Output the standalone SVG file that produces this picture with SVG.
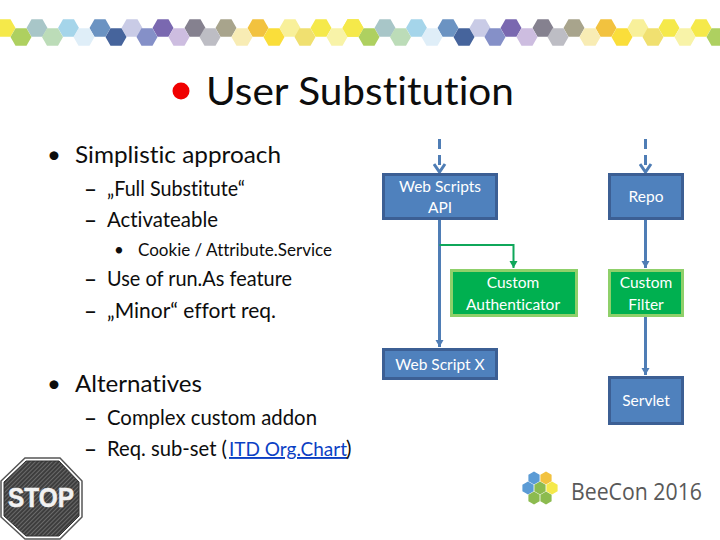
<svg xmlns="http://www.w3.org/2000/svg" width="720" height="540" viewBox="0 0 720 540">
<style>
text{font-family:"Lato","Carlito","Liberation Sans",sans-serif;font-variant-ligatures:none}
.t{fill:#0d0d0d}
.l1{font-size:24px}.l2{font-size:20.5px}.l3{font-size:17px}
.d{font-size:20.5px;font-weight:700;fill:#0d0d0d}
.n{font-size:15.5px;fill:#fff;text-anchor:middle}
.b{fill:#4f81bd;stroke:#3c5f94;stroke-width:3}
.g{fill:#00b050;stroke:#8fd06a;stroke-width:3}
.c{fill:none;stroke:#4f7db5;stroke-width:3}
.cg{fill:none;stroke:#0fa75a;stroke-width:2}
</style>
<defs>
<polygon id="h" points="-10.500,0 -5.500,-8.700 5.500,-8.700 10.500,0 5.500,8.700 -5.500,8.700"/>
<polygon id="p" points="0,-6.500 5.600,-3.300 5.600,3.300 0,6.500 -5.600,3.300 -5.600,-3.300"/>
<g id="band">
<use href="#h" x="5" y="28" fill="#f5e94a"/><use href="#h" x="37" y="28" fill="#a8c6c8"/><use href="#h" x="68.500" y="28" fill="#a5d5ea"/><use href="#h" x="100" y="28" fill="#6b93c2"/><use href="#h" x="132" y="28" fill="#c9cbe6"/><use href="#h" x="163" y="28" fill="#7a68b0"/><use href="#h" x="195" y="28" fill="#85818f"/><use href="#h" x="226" y="28" fill="#a8a48c"/><use href="#h" x="258" y="28" fill="#f2c23f"/><use href="#h" x="290" y="28" fill="#f8f09a"/><use href="#h" x="321" y="28" fill="#f5e94a"/>
<use href="#h" x="21" y="37" fill="#aed060"/><use href="#h" x="52.500" y="37" fill="#bcdcb8"/><use href="#h" x="84" y="37" fill="#dfeef8"/><use href="#h" x="116" y="37" fill="#46649c"/><use href="#h" x="147" y="37" fill="#8590c8"/><use href="#h" x="179" y="37" fill="#cdbde0"/><use href="#h" x="210" y="37" fill="#bdbdc4"/><use href="#h" x="242" y="37" fill="#f8ecb4"/><use href="#h" x="274" y="37" fill="#fade3a"/><use href="#h" x="305" y="37" fill="#f0e070"/><use href="#h" x="337" y="37" fill="#f8f3a8"/>
</g>
<marker id="ab" markerUnits="userSpaceOnUse" markerWidth="14" markerHeight="14" refX="10" refY="7" orient="auto"><path d="M2,1.500 L10,7 L2,12.500" fill="none" stroke="#4f7db5" stroke-width="3"/></marker>
<marker id="as" markerUnits="userSpaceOnUse" markerWidth="10" markerHeight="10" refX="7" refY="5" orient="auto"><path d="M0,1 L7,5 L0,9Z" fill="#4f7db5"/></marker>
<marker id="ag" markerUnits="userSpaceOnUse" markerWidth="10" markerHeight="10" refX="7" refY="5" orient="auto"><path d="M0,1 L7,5 L0,9Z" fill="#0fa75a"/></marker>
<pattern id="hatch" width="3" height="3" patternUnits="userSpaceOnUse" patternTransform="rotate(-45)"><rect width="3" height="3" fill="#3d3d3d"/><rect width="3" height="1" fill="#6a6a6a"/></pattern>
</defs>

<g id="banner"><use href="#band"/><use href="#band" x="348"/><use href="#band" x="696"/><use href="#h" x="353" y="28" fill="#f5e94a"/></g>

<g id="title"><circle cx="181" cy="91" r="8.500" fill="#f00000"/><text class="t" x="206" y="105" font-size="39" textLength="308" lengthAdjust="spacingAndGlyphs">User Substitution</text></g>

<g id="bullets">
<text class="t l1" x="47" y="163">•</text><text class="t l1" x="75" y="163" textLength="206" lengthAdjust="spacingAndGlyphs">Simplistic approach</text>
<text class="d" x="84" y="196" textLength="13" lengthAdjust="spacingAndGlyphs">–</text><text class="t l2" x="107" y="196" textLength="138" lengthAdjust="spacingAndGlyphs">„Full Substitute“</text>
<text class="d" x="84" y="227" textLength="13" lengthAdjust="spacingAndGlyphs">–</text><text class="t l2" x="107" y="227" textLength="111" lengthAdjust="spacingAndGlyphs">Activateable</text>
<text class="t l3" x="114" y="256">•</text><text class="t l3" x="138" y="256" textLength="194" lengthAdjust="spacingAndGlyphs">Cookie / Attribute.Service</text>
<text class="d" x="84" y="286" textLength="13" lengthAdjust="spacingAndGlyphs">–</text><text class="t l2" x="107" y="286" textLength="185" lengthAdjust="spacingAndGlyphs">Use of run.As feature</text>
<text class="d" x="84" y="318" textLength="13" lengthAdjust="spacingAndGlyphs">–</text><text class="t l2" x="107" y="318" textLength="169" lengthAdjust="spacingAndGlyphs">„Minor“ effort req.</text>
<text class="t l1" x="47" y="392">•</text><text class="t l1" x="75" y="392" textLength="127" lengthAdjust="spacingAndGlyphs">Alternatives</text>
<text class="d" x="84" y="425" textLength="13" lengthAdjust="spacingAndGlyphs">–</text><text class="t l2" x="107" y="425" textLength="210" lengthAdjust="spacingAndGlyphs">Complex custom addon</text>
<text class="d" x="84" y="456" textLength="13" lengthAdjust="spacingAndGlyphs">–</text><text class="t l2" x="107" y="456" textLength="120" lengthAdjust="spacingAndGlyphs">Req. sub-set (</text><text x="229" y="456" font-size="19" fill="#0b3fc4" text-decoration="underline">ITD Org.Chart</text><text class="t l2" x="346" y="456">)</text>
</g>

<g id="connectors">
<path class="c" stroke-dasharray="10 6" d="M439.500,139V172" marker-end="url(#ab)"/>
<path class="c" stroke-dasharray="10 6" d="M645.500,139V172" marker-end="url(#ab)"/>
<path class="c" d="M439.500,219V347" marker-end="url(#as)"/>
<path class="cg" d="M439.500,245H513.500V268" marker-end="url(#ag)"/>
<path class="c" d="M645.500,219V268" marker-end="url(#as)"/>
<path class="c" d="M645.500,316V375" marker-end="url(#as)"/>
</g>

<g id="web-scripts-api"><rect class="b" x="383.500" y="174.500" width="113" height="44"/><text class="n" x="440" y="192">Web Scripts</text><text class="n" x="440" y="213">API</text></g>
<g id="repo"><rect class="b" x="609.500" y="174.500" width="73" height="44"/><text class="n" x="646" y="202">Repo</text></g>
<g id="custom-authenticator"><rect class="g" x="451.500" y="270.500" width="125" height="45"/><text class="n" x="513" y="288">Custom</text><text class="n" x="513" y="310">Authenticator</text></g>
<g id="custom-filter"><rect class="g" x="609.500" y="270.500" width="73" height="45"/><text class="n" x="646" y="288">Custom</text><text class="n" x="646" y="310">Filter</text></g>
<g id="web-script-x"><rect class="b" x="383.500" y="349.500" width="113" height="29"/><text class="n" x="440" y="370">Web Script X</text></g>
<g id="servlet"><rect class="b" x="609.500" y="377.500" width="73" height="46"/><text class="n" x="646" y="406">Servlet</text></g>

<g id="stop">
<polygon points="25,458 60,458 82,481 82,517 60,539 25,539 1,517 1,481" fill="#fff" stroke="#555" stroke-width="1.500"/>
<polygon points="26,461 59,461 79,482 79,516 59,536 26,536 4,516 4,482" fill="url(#hatch)" stroke="#333" stroke-width="1"/>
<text x="41" y="507" font-size="27" font-weight="700" fill="#f2f2f2" stroke="#f2f2f2" stroke-width=".5" text-anchor="middle" textLength="66" lengthAdjust="spacingAndGlyphs" style="font-family:'Liberation Sans',sans-serif">STOP</text>
</g>

<g id="logo">
<use href="#p" x="534" y="478" fill="#5b9bd5"/><use href="#p" x="546" y="478" fill="#f2c23f"/><use href="#p" x="528" y="488" fill="#5b9bd5"/><use href="#p" x="540" y="488" fill="#8cbb4f"/><use href="#p" x="552" y="488" fill="#f5e94a"/><use href="#p" x="534" y="498" fill="#8cbb4f"/><use href="#p" x="546" y="498" fill="#8cbb4f"/>
<text x="571" y="500" font-size="24" fill="#595959" textLength="131" lengthAdjust="spacingAndGlyphs" style="font-family:'Open Sans',sans-serif">BeeCon 2016</text>
</g>
</svg>
